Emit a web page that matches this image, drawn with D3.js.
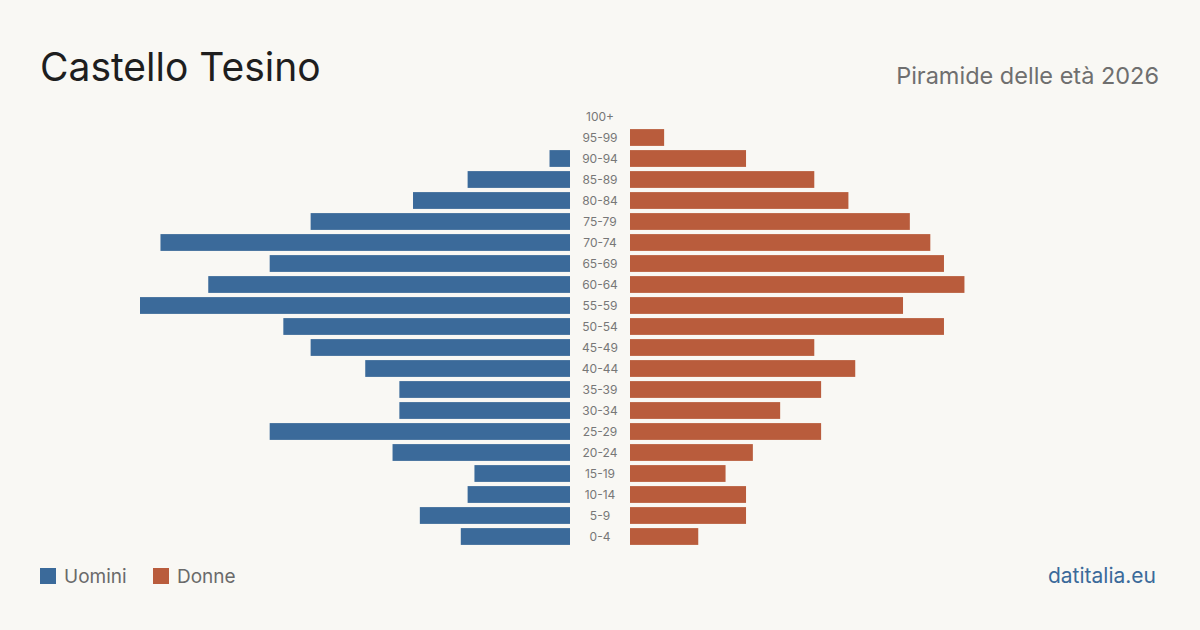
<!DOCTYPE html>
<html>
<head>
<meta charset="utf-8">
<script src="https://cdn.jsdelivr.net/npm/d3@7"></script>
<style>
  html, body { margin: 0; padding: 0; background: #f9f8f4; }
  svg { display: block; font-family: Inter, "Open Sans", sans-serif; }
</style>
</head>
<body>
<svg id="chart" width="1200" height="630"></svg>
<script>
// eta dall'alto in basso
var ageGroups = ["100+", "95-99", "90-94", "85-89", "80-84", "75-79", "70-74", "65-69",
    "60-64", "55-59", "50-54", "45-49", "40-44", "35-39", "30-34", "25-29",
    "20-24", "15-19", "10-14", "5-9", "0-4"];
var uomini = [0, 0, 3, 15, 23, 38, 60, 44, 53, 63, 42, 38, 30, 25, 25, 44, 26, 14, 15, 22, 16];
var donne  = [0, 5, 17, 27, 32, 41, 44, 46, 49, 40, 46, 27, 33, 28, 22, 28, 18, 14, 17, 17, 10];

var svg = d3.select("#chart");
var blu = "#3b6a9a", rosso = "#b95c3c";

var maxVal = d3.max(uomini.concat(donne));
var x = d3.scaleLinear().domain([0, maxVal]).range([0, 430]);
var y = d3.scaleBand().domain(ageGroups).range([106, 547]).paddingInner(0.2).paddingOuter(0.1);

var leftEnd = 570, rightStart = 630;

svg.append("g").selectAll("rect")
    .data(ageGroups)
    .enter().append("rect")
    .attr("x", function(d, i) { return leftEnd - x(uomini[i]); })
    .attr("y", function(d) { return y(d); })
    .attr("width", function(d, i) { return x(uomini[i]); })
    .attr("height", y.bandwidth())
    .attr("fill", blu);

svg.append("g").selectAll("rect")
    .data(ageGroups)
    .enter().append("rect")
    .attr("x", rightStart)
    .attr("y", function(d) { return y(d); })
    .attr("width", function(d, i) { return x(donne[i]); })
    .attr("height", y.bandwidth())
    .attr("fill", rosso);

svg.append("g").selectAll("text")
    .data(ageGroups)
    .enter().append("text")
    .attr("x", 600)
    .attr("y", function(d) { return y(d) + y.bandwidth() / 2; })
    .attr("dy", "0.35em")
    .attr("text-anchor", "middle")
    .attr("font-size", 12)
    .attr("fill", "#777")
    .text(function(d) { return d; });

// titolo
svg.append("text")
    .attr("x", 40).attr("y", 81)
    .attr("font-size", 39)
    .attr("fill", "#1e1e1e")
    .text("Castello Tesino");

svg.append("text")
    .attr("x", 1159).attr("y", 84)
    .attr("text-anchor", "end")
    .attr("font-size", 23.5)
    .attr("fill", "#6f6f6f")
    .text("Piramide delle età 2026");

// legenda
var legend = [{ label: "Uomini", color: blu, x: 40 }, { label: "Donne", color: rosso, x: 153 }];
var lg = svg.append("g").selectAll("g").data(legend).enter().append("g");
lg.append("rect")
    .attr("x", function(d) { return d.x; })
    .attr("y", 568).attr("width", 16).attr("height", 16)
    .attr("fill", function(d) { return d.color; });
lg.append("text")
    .attr("x", function(d) { return d.x + 24; })
    .attr("y", 583)
    .attr("font-size", 19)
    .attr("fill", "#6a6a6a")
    .text(function(d) { return d.label; });

svg.append("text")
    .attr("x", 1156).attr("y", 583)
    .attr("text-anchor", "end")
    .attr("font-size", 21)
    .attr("fill", "#3b6a9a")
    .text("datitalia.eu");
</script>
</body>
</html>
